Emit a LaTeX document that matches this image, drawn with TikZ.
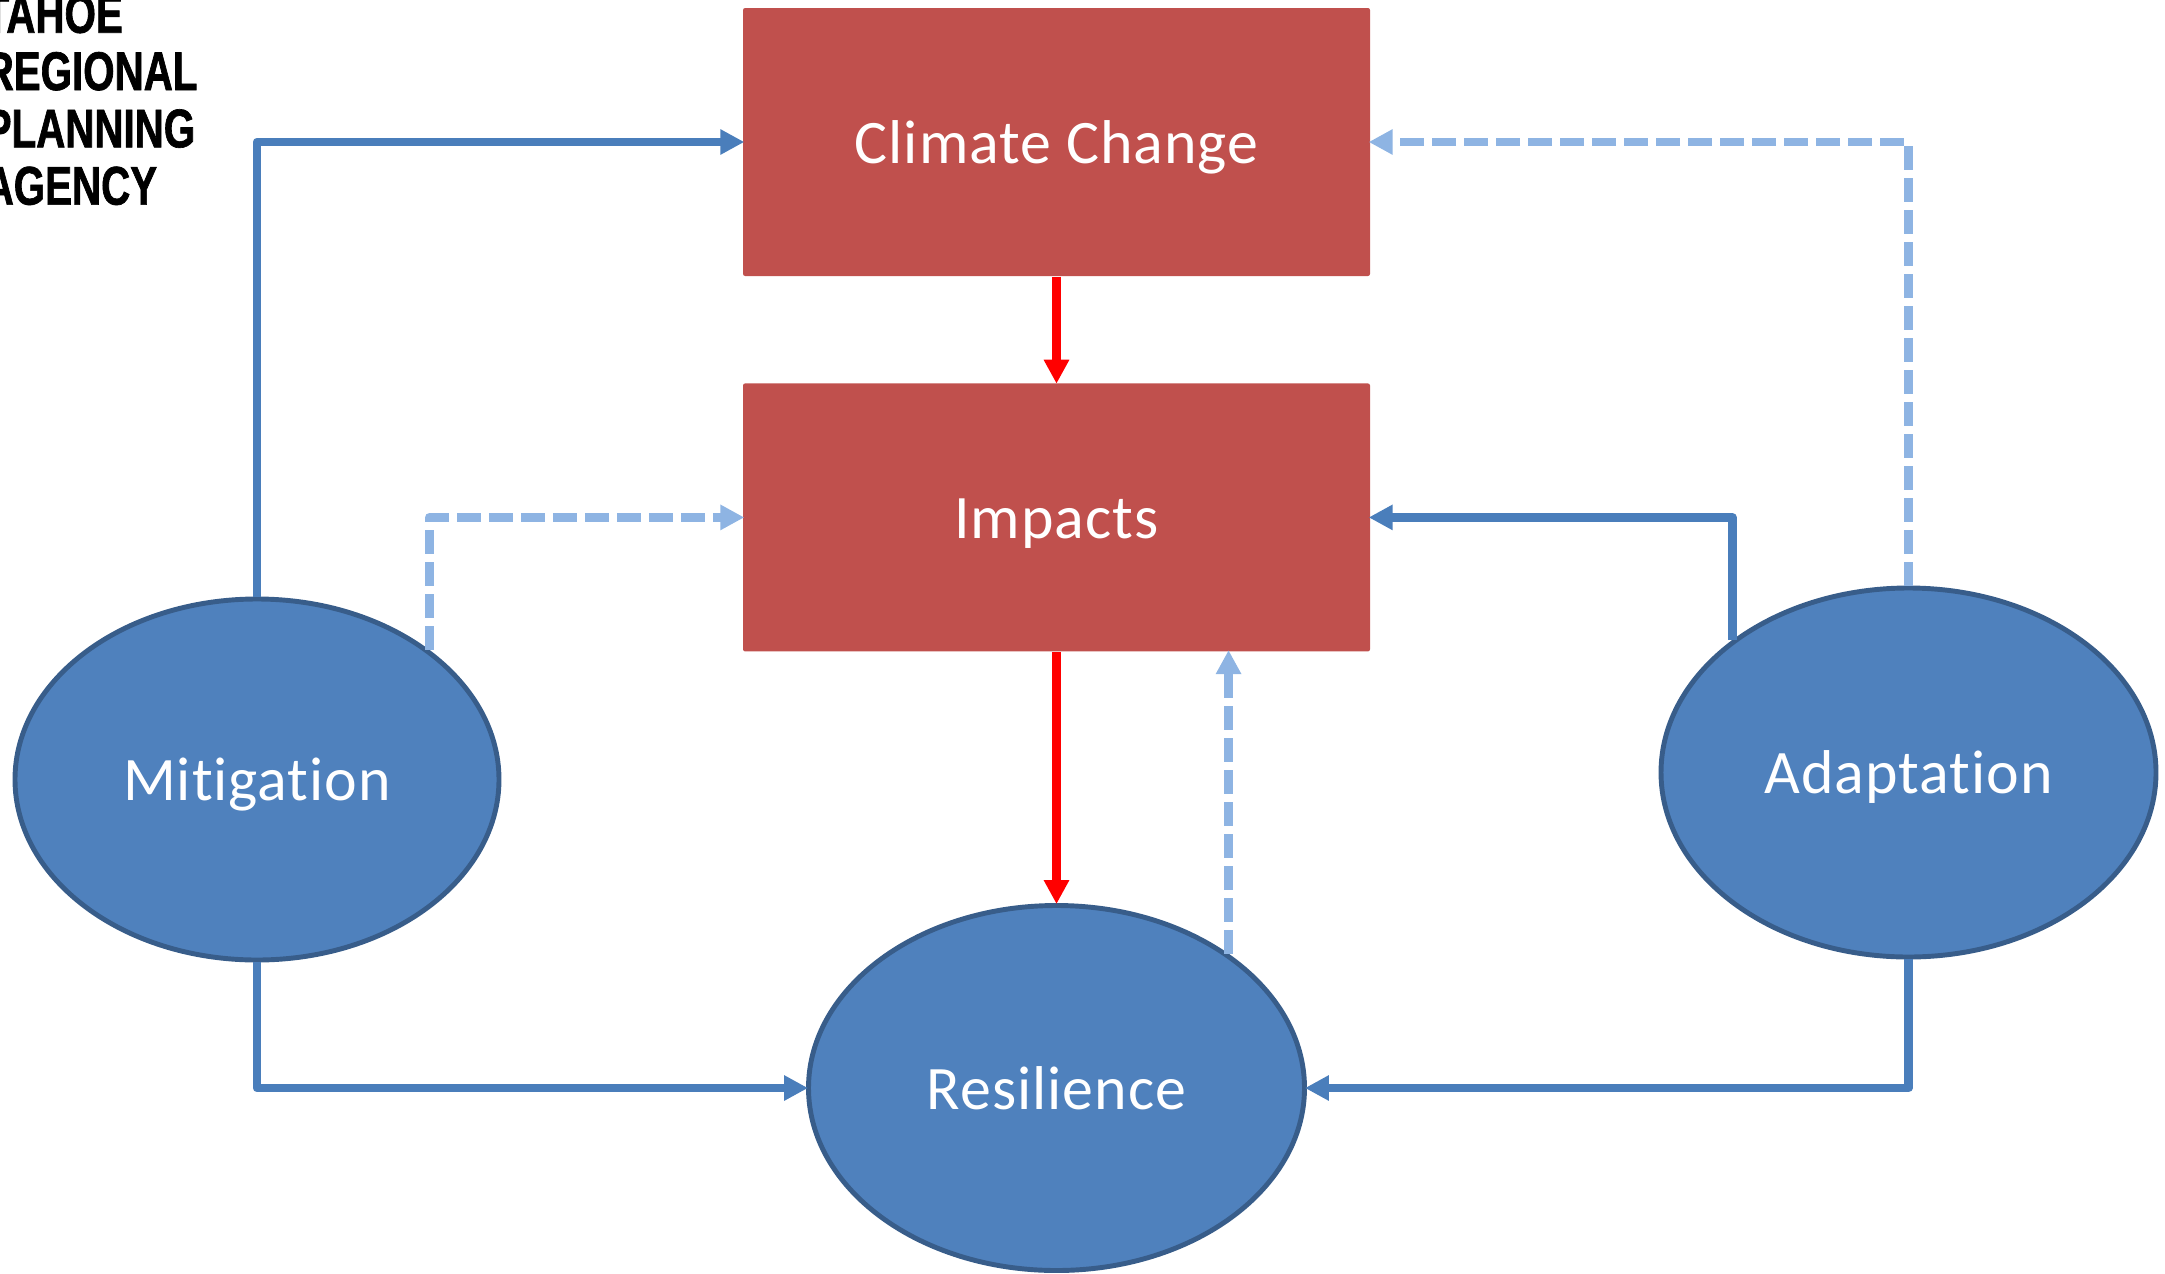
\documentclass[tikz,border=0pt]{standalone}
\usepackage{fontspec}
\setmainfont[Ligatures=CommonOff,LetterSpace=1.6]{Carlito}
\newfontfamily\agencyfont[FakeStretch=0.74,FakeBold=1.2]{Liberation Sans Bold}
\usetikzlibrary{arrows.meta,positioning,shapes.geometric}
\definecolor{boxred}{HTML}{C0504D}
\definecolor{ovalblue}{HTML}{4F81BD}
\definecolor{ovaledge}{HTML}{385D8A}
\definecolor{linkblue}{HTML}{4A7EBB}
\definecolor{linklight}{HTML}{8EB4E3}
\tikzset{
boxstyle/.style= {rectangle, rounded corners=0.6pt, fill=boxred, text=white, inner sep=0pt,
  minimum width=6.27cm, minimum height=2.68cm, text height=0.5cm, text depth=0.08cm, font=\fontsize{17.6}{21}\selectfont},
ovalstyle/.style= {ellipse, draw=ovaledge, line width=1.4pt, fill=ovalblue, text=white, inner sep=0pt,
  text height=0.5cm, text depth=0.08cm, font=\fontsize{17.6}{21}\selectfont},
solidlink/.style= {-{Triangle[length=0.24cm,width=0.24cm]}, shorten >=-0.02cm, draw=linkblue, line width=0.085cm, line join=round},
dashlink/.style= {-{Triangle[length=0.24cm,width=0.24cm]}, shorten >=-0.02cm, draw=linklight, line width=0.085cm, line join=round, dash pattern=on 0.24cm off 0.08cm},
redlink/.style= {-{Triangle[length=0.24cm,width=0.24cm]}, shorten >=-0.01cm, draw=red, line width=0.085cm}
}

\begin{document}
\begin{tikzpicture}
\useasboundingbox (0,0) rectangle (21.65,-12.73);

% the two red boxes
\node[boxstyle] (climate) at (10.565,-1.42) {Climate Change};
\node[boxstyle,below=1.06cm of climate] (impacts) {Impacts};

% the three ovals
\node[ovalstyle,minimum width=4.84cm,minimum height=3.61cm] (mitigation) at (2.57,-7.795) {Mitigation};
\node[ovalstyle,minimum width=4.95cm,minimum height=3.69cm] (adaptation) at (19.085,-7.725) {Adaptation};
\node[ovalstyle,minimum width=4.96cm,minimum height=3.65cm] (resilience) at (10.565,-10.88) {Resilience};

% agency name, cut off by the page
\node[anchor=north west,align=left,inner sep=0pt,font=\agencyfont\fontsize{15.5}{16.3}\selectfont] (agency) at (-0.16,0.06) {TAHOE\\REGIONAL\\PLANNING\\AGENCY};

% red links
\draw[redlink] (climate.south) -- (impacts.north);
\draw[redlink] (impacts.south) -- (resilience.north);

% solid links
\draw[solidlink] (mitigation.north) |- (climate.west);
\draw[solidlink] (mitigation.south) |- (resilience.west);
\draw[solidlink] (adaptation.143.2) |- (impacts.east);
\draw[solidlink] (adaptation.south) |- (resilience.east);

% dashed links
\draw[dashlink] (mitigation.37.6) |- (impacts.west);
\draw[dashlink] (adaptation.north) |- (climate.east);
\draw[dashlink] (resilience.38.2) -- (resilience.38.2 |- impacts.south);
\end{tikzpicture}
\end{document}
